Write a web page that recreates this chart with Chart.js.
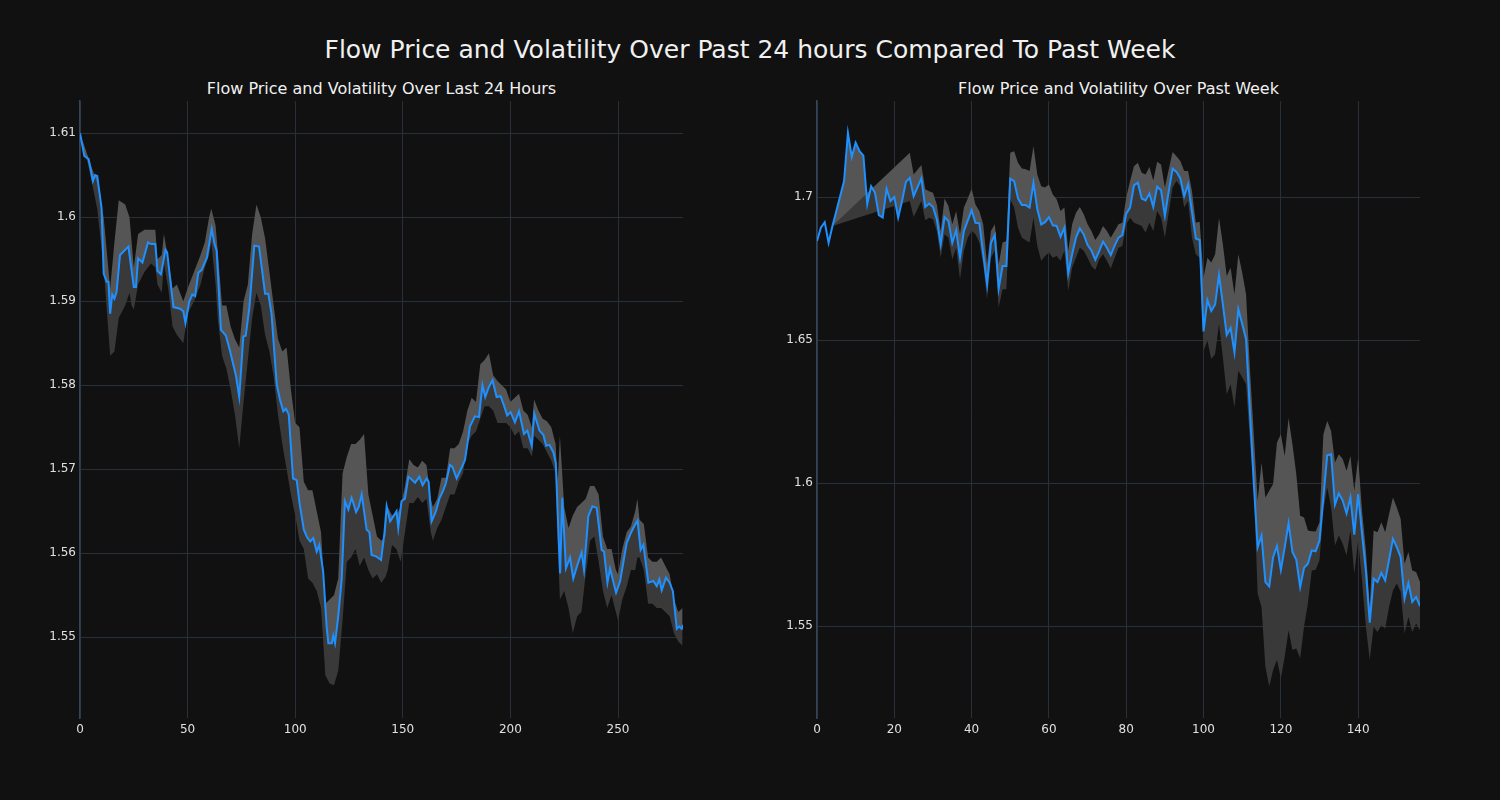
<!DOCTYPE html>
<html>
<head>
<meta charset="utf-8">
<script src="https://cdn.jsdelivr.net/npm/chart.js@4"></script>
<style>
    body { margin: 0; background: #111111; width: 1500px; height: 800px; overflow: hidden; font-family: 'DejaVu Sans', sans-serif; }
    .title { position: absolute; color: #f0f0f0; text-align: center; white-space: nowrap; }
    #mainTitle { left: 0; width: 1500px; top: 34px; height: 32px; line-height: 32px; font-size: 25px; }
    .subTitle { top: 79px; height: 20px; line-height: 20px; font-size: 16px; width: 603px; }
    canvas { position: absolute; top: 90px; }
</style>
</head>
<body>
<div id="mainTitle" class="title">Flow Price and Volatility Over Past 24 hours Compared To Past Week</div>
<div class="title subTitle" style="left:80px">Flow Price and Volatility Over Last 24 Hours</div>
<div class="title subTitle" style="left:817px">Flow Price and Volatility Over Past Week</div>
<canvas id="hoursChart" width="663" height="658" style="left:20px;width:663px;height:658px"></canvas>
<canvas id="weekChart" width="663" height="658" style="left:757px;width:663px;height:658px"></canvas>
<script>
// ---- last 24 hours ----
const hoursX = [0, 2, 4, 6, 7, 8, 10, 11, 12.4, 13.2, 14, 15, 16, 17, 18.6, 22.5, 25, 26, 27, 29, 31.6, 33, 35, 36, 37.6, 39.7, 40.5, 43.4, 46.5, 48, 49, 50.7, 52.2, 53.5, 55, 56.5, 59, 61.2, 62.5, 63.5, 65.5, 67.8, 69.7, 72.5, 74, 75.9, 77, 78.7, 81, 83.2, 86, 87.5, 89, 91.4, 93, 94.5, 95.7, 97, 99, 100.7, 102, 104, 105.5, 107, 108.4, 110, 111.2, 113, 114.6, 115.4, 117, 117.7, 118.5, 120, 121.6, 123.1, 124.7, 126.2, 127, 128.3, 129.5, 130.9, 133.2, 134.5, 135.5, 137.8, 139.9, 141.5, 142.5, 144.1, 147.1, 147.9, 149.4, 151, 152.6, 154, 155.7, 157.7, 159.2, 161.1, 162, 163.4, 165.4, 167, 168.8, 170, 171.9, 173, 175, 177, 178.9, 180, 181.2, 183.5, 185.4, 187, 188.3, 190, 191.7, 193.6, 195.4, 197, 198.5, 200.1, 202.1, 204, 206.3, 207.9, 209.9, 211.1, 213.5, 215.3, 216.6, 218.1, 220, 221.1, 222, 223.1, 224.1, 225.8, 227.7, 229.2, 231, 233.1, 234.2, 236.2, 238.1, 240.1, 242.4, 243.5, 245.1, 246.3, 249.1, 251, 254, 255.6, 257.1, 259.1, 260.5, 261.8, 264.1, 266.4, 268, 269.2, 270.3, 272.3, 274, 275.5, 277.3, 278.5, 279.6, 280.3];
const hoursPrice = [1.6100, 1.6073, 1.6069, 1.6043, 1.6050, 1.6049, 1.6011, 1.5933, 1.5923, 1.5923, 1.5885, 1.5908, 1.5903, 1.5911, 1.5955, 1.5965, 1.5917, 1.5917, 1.5951, 1.5946, 1.5970, 1.5968, 1.5968, 1.5936, 1.5932, 1.5961, 1.5958, 1.5893, 1.5891, 1.5888, 1.5874, 1.5899, 1.5908, 1.5906, 1.5934, 1.5937, 1.5952, 1.5986, 1.5968, 1.5960, 1.5866, 1.5859, 1.5841, 1.5811, 1.5786, 1.5858, 1.5859, 1.5892, 1.5966, 1.5965, 1.5909, 1.5909, 1.5885, 1.5801, 1.5782, 1.5769, 1.5772, 1.5765, 1.5689, 1.5687, 1.5660, 1.5628, 1.5619, 1.5614, 1.5618, 1.5602, 1.5610, 1.5578, 1.5513, 1.5493, 1.5493, 1.5502, 1.5493, 1.5525, 1.5569, 1.5662, 1.5652, 1.5666, 1.5660, 1.5649, 1.5655, 1.5670, 1.5628, 1.5625, 1.5598, 1.5596, 1.5592, 1.5625, 1.5656, 1.5638, 1.5650, 1.5630, 1.5662, 1.5665, 1.5691, 1.5688, 1.5684, 1.5691, 1.5681, 1.5689, 1.5685, 1.5638, 1.5650, 1.5665, 1.5675, 1.5683, 1.5705, 1.5703, 1.5689, 1.5700, 1.5711, 1.5730, 1.5751, 1.5763, 1.5762, 1.5800, 1.5786, 1.5798, 1.5806, 1.5786, 1.5787, 1.5776, 1.5764, 1.5768, 1.5756, 1.5769, 1.5742, 1.5746, 1.5728, 1.5766, 1.5746, 1.5741, 1.5728, 1.5729, 1.5720, 1.5707, 1.5645, 1.5576, 1.5666, 1.5582, 1.5595, 1.5570, 1.5585, 1.5601, 1.5580, 1.5644, 1.5656, 1.5654, 1.5604, 1.5602, 1.5565, 1.5582, 1.5553, 1.5567, 1.5612, 1.5622, 1.5630, 1.5639, 1.5604, 1.5610, 1.5565, 1.5567, 1.5561, 1.5569, 1.5556, 1.5571, 1.5565, 1.5555, 1.5510, 1.5513, 1.5510, 1.5515];
const hoursBandX = [0, 4, 8, 11, 14, 16, 18, 21, 23, 24, 25, 27, 30, 33, 35, 36, 38, 39, 41, 43, 45, 48, 50, 53, 56, 58, 60, 61, 63, 64, 66, 68, 70, 72, 74, 76, 78, 80, 82, 84, 86, 88, 90, 92, 94, 96, 98, 100, 102, 104, 106, 108, 110, 112, 114, 116, 118, 120, 122, 124, 126, 128, 130, 132, 134, 136, 138, 140, 142, 143, 145, 147, 149, 151, 153, 155, 157, 159, 161, 163, 164, 166, 168, 170, 172, 174, 176, 178, 180, 182, 184, 186, 188, 190, 192, 194, 196, 198, 200, 202, 204, 206, 208, 210, 211, 213, 215, 217, 219, 221, 222, 223, 225, 227, 229, 231, 233, 235, 237, 239, 241, 243, 245, 247, 249, 250, 252, 254, 256, 258, 259, 260, 262, 264, 266, 268, 270, 272, 274, 276, 278, 280];
const hoursUpper = [1.6100, 1.6070, 1.6040, 1.6000, 1.5915, 1.5970, 1.6020, 1.6015, 1.6000, 1.5970, 1.5940, 1.5980, 1.5985, 1.5985, 1.5985, 1.5950, 1.5955, 1.5980, 1.5950, 1.5915, 1.5920, 1.5900, 1.5915, 1.5935, 1.5955, 1.5970, 1.6000, 1.6010, 1.5990, 1.5960, 1.5895, 1.5895, 1.5870, 1.5855, 1.5845, 1.5900, 1.5920, 1.5980, 1.6015, 1.6000, 1.5975, 1.5935, 1.5895, 1.5855, 1.5840, 1.5845, 1.5795, 1.5755, 1.5750, 1.5685, 1.5675, 1.5675, 1.5650, 1.5625, 1.5540, 1.5545, 1.5550, 1.5570, 1.5695, 1.5715, 1.5730, 1.5730, 1.5735, 1.5742, 1.5670, 1.5645, 1.5620, 1.5615, 1.5620, 1.5655, 1.5645, 1.5645, 1.5655, 1.5680, 1.5712, 1.5705, 1.5702, 1.5710, 1.5705, 1.5665, 1.5655, 1.5665, 1.5690, 1.5690, 1.5725, 1.5725, 1.5730, 1.5745, 1.5770, 1.5785, 1.5780, 1.5825, 1.5830, 1.5838, 1.5812, 1.5805, 1.5800, 1.5795, 1.5780, 1.5785, 1.5790, 1.5770, 1.5765, 1.5750, 1.5783, 1.5770, 1.5760, 1.5757, 1.5750, 1.5730, 1.5685, 1.5740, 1.5655, 1.5630, 1.5645, 1.5655, 1.5660, 1.5665, 1.5680, 1.5680, 1.5670, 1.5620, 1.5605, 1.5605, 1.5580, 1.5575, 1.5605, 1.5625, 1.5632, 1.5650, 1.5665, 1.5640, 1.5635, 1.5595, 1.5590, 1.5590, 1.5595, 1.5585, 1.5575, 1.5545, 1.5530, 1.5535];
const hoursLower = [1.6100, 1.6060, 1.6010, 1.5940, 1.5835, 1.5840, 1.5880, 1.5895, 1.5910, 1.5895, 1.5890, 1.5920, 1.5935, 1.5945, 1.5940, 1.5920, 1.5910, 1.5945, 1.5915, 1.5870, 1.5860, 1.5850, 1.5885, 1.5900, 1.5920, 1.5940, 1.5955, 1.5970, 1.5920, 1.5880, 1.5835, 1.5820, 1.5795, 1.5765, 1.5725, 1.5780, 1.5830, 1.5880, 1.5910, 1.5895, 1.5860, 1.5840, 1.5810, 1.5765, 1.5730, 1.5700, 1.5670, 1.5645, 1.5615, 1.5605, 1.5570, 1.5565, 1.5555, 1.5535, 1.5455, 1.5445, 1.5443, 1.5460, 1.5520, 1.5590, 1.5595, 1.5605, 1.5585, 1.5595, 1.5580, 1.5570, 1.5575, 1.5565, 1.5572, 1.5580, 1.5610, 1.5605, 1.5590, 1.5625, 1.5660, 1.5660, 1.5667, 1.5660, 1.5665, 1.5625, 1.5615, 1.5630, 1.5640, 1.5655, 1.5670, 1.5670, 1.5685, 1.5695, 1.5730, 1.5740, 1.5745, 1.5760, 1.5775, 1.5775, 1.5770, 1.5755, 1.5755, 1.5755, 1.5750, 1.5740, 1.5745, 1.5725, 1.5725, 1.5715, 1.5740, 1.5735, 1.5730, 1.5720, 1.5710, 1.5695, 1.5610, 1.5545, 1.5555, 1.5535, 1.5505, 1.5525, 1.5530, 1.5575, 1.5615, 1.5620, 1.5590, 1.5555, 1.5535, 1.5550, 1.5530, 1.5520, 1.5545, 1.5560, 1.5580, 1.5580, 1.5595, 1.5595, 1.5580, 1.5540, 1.5540, 1.5535, 1.5535, 1.5530, 1.5525, 1.5505, 1.5495, 1.5490];
const hoursXTicks = [0, 50, 100, 150, 200, 250];
const hoursYTicks = [1.55, 1.56, 1.57, 1.58, 1.59, 1.6, 1.61];

// ---- past week ----
const weekX = [0, 1, 2, 3, 4, 7, 8, 9, 10, 11, 12, 13, 14, 15, 16, 17, 18, 19, 20, 21, 22, 23, 24, 25, 27, 28, 29, 30, 31, 32, 33, 34, 35, 36, 37, 38, 40, 41, 42, 44, 45, 46, 47, 48, 49, 50, 51, 52, 53, 54, 55, 56, 57, 58, 59, 60, 61, 62, 63, 64, 65, 66, 67, 68, 69, 70, 71, 72, 73, 74, 75, 76, 77, 78, 79, 80, 81, 82, 83, 84, 85, 86, 87, 88, 89, 90, 91, 92, 93, 94, 95, 96, 97, 98, 99, 100, 101, 102, 103, 104, 105, 106, 107, 108, 109, 110, 111, 112, 113, 114, 115, 116, 117, 118, 119, 120, 121, 122, 123, 124, 125, 126, 127, 128, 129, 130, 131, 132, 133, 134, 135, 136, 137, 138, 139, 140, 141, 142, 143, 144, 145, 146, 147, 148, 149, 150, 151, 152, 153, 154, 155, 156];
const weekPrice = [1.6846, 1.6893, 1.6912, 1.6840, 1.6899, 1.7056, 1.7224, 1.7140, 1.7190, 1.7160, 1.7145, 1.6975, 1.7038, 1.7015, 1.6937, 1.6928, 1.7029, 1.6986, 1.7000, 1.6928, 1.6986, 1.7053, 1.7067, 1.7003, 1.7065, 1.6965, 1.6977, 1.6965, 1.6922, 1.6835, 1.6930, 1.6916, 1.6840, 1.6884, 1.6788, 1.6881, 1.6954, 1.6910, 1.6908, 1.6695, 1.6840, 1.6867, 1.6680, 1.6759, 1.6759, 1.7064, 1.7056, 1.6995, 1.6972, 1.6972, 1.6963, 1.7050, 1.6957, 1.6904, 1.6912, 1.6930, 1.6901, 1.6899, 1.6861, 1.6893, 1.6733, 1.6800, 1.6858, 1.6890, 1.6869, 1.6832, 1.6813, 1.6781, 1.6811, 1.6844, 1.6823, 1.6797, 1.6830, 1.6858, 1.6867, 1.6942, 1.6963, 1.7041, 1.7050, 1.6995, 1.6988, 1.7012, 1.6965, 1.7036, 1.7024, 1.6934, 1.7021, 1.7099, 1.7088, 1.7065, 1.7003, 1.7044, 1.6949, 1.6855, 1.6850, 1.6530, 1.6640, 1.6602, 1.6625, 1.6728, 1.6625, 1.6518, 1.6542, 1.6457, 1.6608, 1.6556, 1.6503, 1.6250, 1.6000, 1.5776, 1.5817, 1.5654, 1.5639, 1.5741, 1.5780, 1.5697, 1.5776, 1.5860, 1.5759, 1.5732, 1.5637, 1.5704, 1.5718, 1.5765, 1.5762, 1.5799, 1.5950, 1.6097, 1.6101, 1.5925, 1.5964, 1.5939, 1.5894, 1.5950, 1.5820, 1.5962, 1.5823, 1.5693, 1.5512, 1.5666, 1.5654, 1.5686, 1.5660, 1.5732, 1.5805, 1.5776, 1.5741, 1.5596, 1.5651, 1.5585, 1.5602, 1.5570];
const weekBandX = [4, 24, 25, 27, 28, 29, 30, 31, 32, 33, 34, 35, 36, 37, 38, 39, 40, 41, 42, 43, 44, 45, 46, 47, 48, 49, 50, 51, 52, 53, 54, 55, 56, 57, 58, 59, 60, 61, 62, 63, 64, 65, 66, 67, 68, 69, 70, 71, 72, 73, 74, 75, 76, 78, 79, 80, 81, 82, 83, 84, 85, 86, 87, 88, 89, 90, 91, 92, 93, 94, 95, 96, 97, 98, 99, 100, 101, 102, 103, 104, 105, 106, 107, 108, 109, 110, 111, 112, 113, 114, 115, 116, 117, 118, 119, 120, 121, 122, 123, 124, 125, 126, 127, 128, 129, 130, 131, 132, 133, 134, 135, 136, 137, 138, 139, 140, 141, 142, 143, 144, 145, 146, 147, 148, 149, 150, 151, 152, 153, 154, 155, 156];
const weekUpper = [1.6899, 1.7155, 1.7079, 1.7112, 1.7027, 1.7020, 1.7015, 1.6974, 1.6881, 1.6995, 1.6969, 1.6905, 1.6951, 1.6870, 1.6963, 1.6995, 1.7029, 1.6974, 1.6951, 1.6905, 1.6765, 1.6881, 1.6905, 1.6765, 1.6841, 1.6846, 1.7155, 1.7160, 1.7120, 1.7100, 1.7097, 1.7091, 1.7178, 1.7079, 1.7038, 1.7033, 1.7044, 1.7009, 1.6992, 1.6951, 1.6963, 1.6812, 1.6905, 1.6945, 1.6965, 1.6940, 1.6905, 1.6881, 1.6850, 1.6870, 1.6899, 1.6881, 1.6858, 1.6905, 1.6910, 1.6998, 1.7056, 1.7108, 1.7120, 1.7085, 1.7079, 1.7105, 1.7058, 1.7123, 1.7114, 1.7033, 1.7097, 1.7157, 1.7143, 1.7126, 1.7091, 1.7091, 1.7021, 1.6910, 1.6914, 1.6719, 1.6788, 1.6771, 1.6800, 1.6928, 1.6835, 1.6724, 1.6753, 1.6660, 1.6800, 1.6736, 1.6660, 1.6400, 1.6170, 1.5939, 1.6072, 1.5950, 1.5973, 1.5997, 1.6142, 1.6171, 1.6095, 1.6228, 1.6136, 1.6031, 1.5886, 1.5880, 1.5834, 1.5832, 1.5831, 1.5863, 1.6171, 1.6217, 1.6182, 1.6072, 1.6101, 1.6084, 1.6043, 1.6095, 1.5973, 1.6089, 1.5904, 1.5765, 1.5567, 1.5834, 1.5828, 1.5863, 1.5828, 1.5892, 1.5950, 1.5915, 1.5875, 1.5718, 1.5759, 1.5695, 1.5689, 1.5654];
const weekLower = [1.6899, 1.6986, 1.6930, 1.6986, 1.6919, 1.6928, 1.6922, 1.6881, 1.6788, 1.6870, 1.6858, 1.6782, 1.6823, 1.6713, 1.6812, 1.6858, 1.6881, 1.6870, 1.6841, 1.6765, 1.6643, 1.6788, 1.6812, 1.6614, 1.6678, 1.6678, 1.6992, 1.6963, 1.6893, 1.6858, 1.6849, 1.6841, 1.6928, 1.6829, 1.6777, 1.6794, 1.6806, 1.6788, 1.6794, 1.6777, 1.6812, 1.6672, 1.6753, 1.6788, 1.6823, 1.6812, 1.6788, 1.6759, 1.6745, 1.6782, 1.6800, 1.6777, 1.6750, 1.6823, 1.6829, 1.6905, 1.6928, 1.6910, 1.6905, 1.6899, 1.6876, 1.6910, 1.6881, 1.6951, 1.6928, 1.6858, 1.6945, 1.7033, 1.7056, 1.7038, 1.6963, 1.6986, 1.6858, 1.6800, 1.6788, 1.6463, 1.6498, 1.6434, 1.6451, 1.6556, 1.6439, 1.6311, 1.6346, 1.6265, 1.6393, 1.6370, 1.6346, 1.6150, 1.5980, 1.5614, 1.5567, 1.5358, 1.5289, 1.5347, 1.5382, 1.5318, 1.5393, 1.5486, 1.5417, 1.5422, 1.5388, 1.5498, 1.5579, 1.5695, 1.5697, 1.5730, 1.5904, 1.5985, 1.5915, 1.5782, 1.5817, 1.5788, 1.5747, 1.5834, 1.5683, 1.5799, 1.5660, 1.5498, 1.5382, 1.5498, 1.5480, 1.5503, 1.5492, 1.5567, 1.5625, 1.5649, 1.5620, 1.5474, 1.5532, 1.5480, 1.5509, 1.5486];
const weekXTicks = [0, 20, 40, 60, 80, 100, 120, 140];
const weekYTicks = [1.55, 1.6, 1.65, 1.7];

const lineColor = '#1e90ff';
const bandAbove = '#555555';
const bandBelow = '#393939';
const gridColor = '#28303a';
const spineColor = '#34455a';
const tickColor = '#e0e0e0';

function toPoints(xs, ys) {
    return xs.map((x, i) => ({ x: x, y: ys[i] }));
}

function makePanel(canvasId, xs, price, bandX, upper, lower, xMax, yMin, yMax, xTicks, yTicks) {
    const ctx = document.getElementById(canvasId);
    return new Chart(ctx, {
        type: 'line',
        data: {
            datasets: [
                {
                    data: toPoints(xs, price),
                    borderColor: lineColor,
                    borderWidth: 2,
                    pointRadius: 0,
                    tension: 0,
                    fill: false
                },
                {
                    data: toPoints(bandX, upper),
                    borderWidth: 0,
                    borderColor: 'rgba(0,0,0,0)',
                    backgroundColor: bandAbove,
                    pointRadius: 0,
                    tension: 0,
                    fill: '-1'
                },
                {
                    data: toPoints(bandX, lower),
                    borderWidth: 0,
                    borderColor: 'rgba(0,0,0,0)',
                    backgroundColor: bandBelow,
                    pointRadius: 0,
                    tension: 0,
                    fill: '-2'
                }
            ]
        },
        options: {
            responsive: false,
            animation: false,
            events: [],
            layout: { padding: { top: 10, right: 0, bottom: 0, left: 0 } },
            scales: {
                x: {
                    type: 'linear',
                    min: 0,
                    max: xMax,
                    afterBuildTicks: function(scale) {
                        scale.ticks = xTicks.map(v => ({ value: v }));
                    },
                    afterFit: function(scale) { scale.height = 30; },
                    grid: { color: gridColor, lineWidth: 1, drawTicks: false },
                    border: { display: false },
                    ticks: {
                        color: tickColor,
                        padding: 5,
                        maxRotation: 0,
                        font: { family: 'DejaVu Sans', size: 12 },
                        callback: v => String(v)
                    }
                },
                y: {
                    min: yMin,
                    max: yMax,
                    afterBuildTicks: function(scale) {
                        scale.ticks = yTicks.map(v => ({ value: v }));
                    },
                    afterFit: function(scale) { scale.width = 60; },
                    grid: { color: gridColor, lineWidth: 1, drawTicks: false },
                    border: { display: true, color: spineColor, width: 1.5 },
                    ticks: {
                        color: tickColor,
                        padding: 4,
                        font: { family: 'DejaVu Sans', size: 12 },
                        callback: v => String(parseFloat(Number(v).toFixed(4)))
                    }
                }
            },
            plugins: {
                legend: { display: false },
                tooltip: { enabled: false }
            }
        }
    });
}

makePanel('hoursChart', hoursX, hoursPrice, hoursBandX, hoursUpper, hoursLower, 280.2, 1.5404, 1.6138, hoursXTicks, hoursYTicks);
makePanel('weekChart', weekX, weekPrice, weekBandX, weekUpper, weekLower, 156, 1.5179, 1.7335, weekXTicks, weekYTicks);
</script>
</body>
</html>
